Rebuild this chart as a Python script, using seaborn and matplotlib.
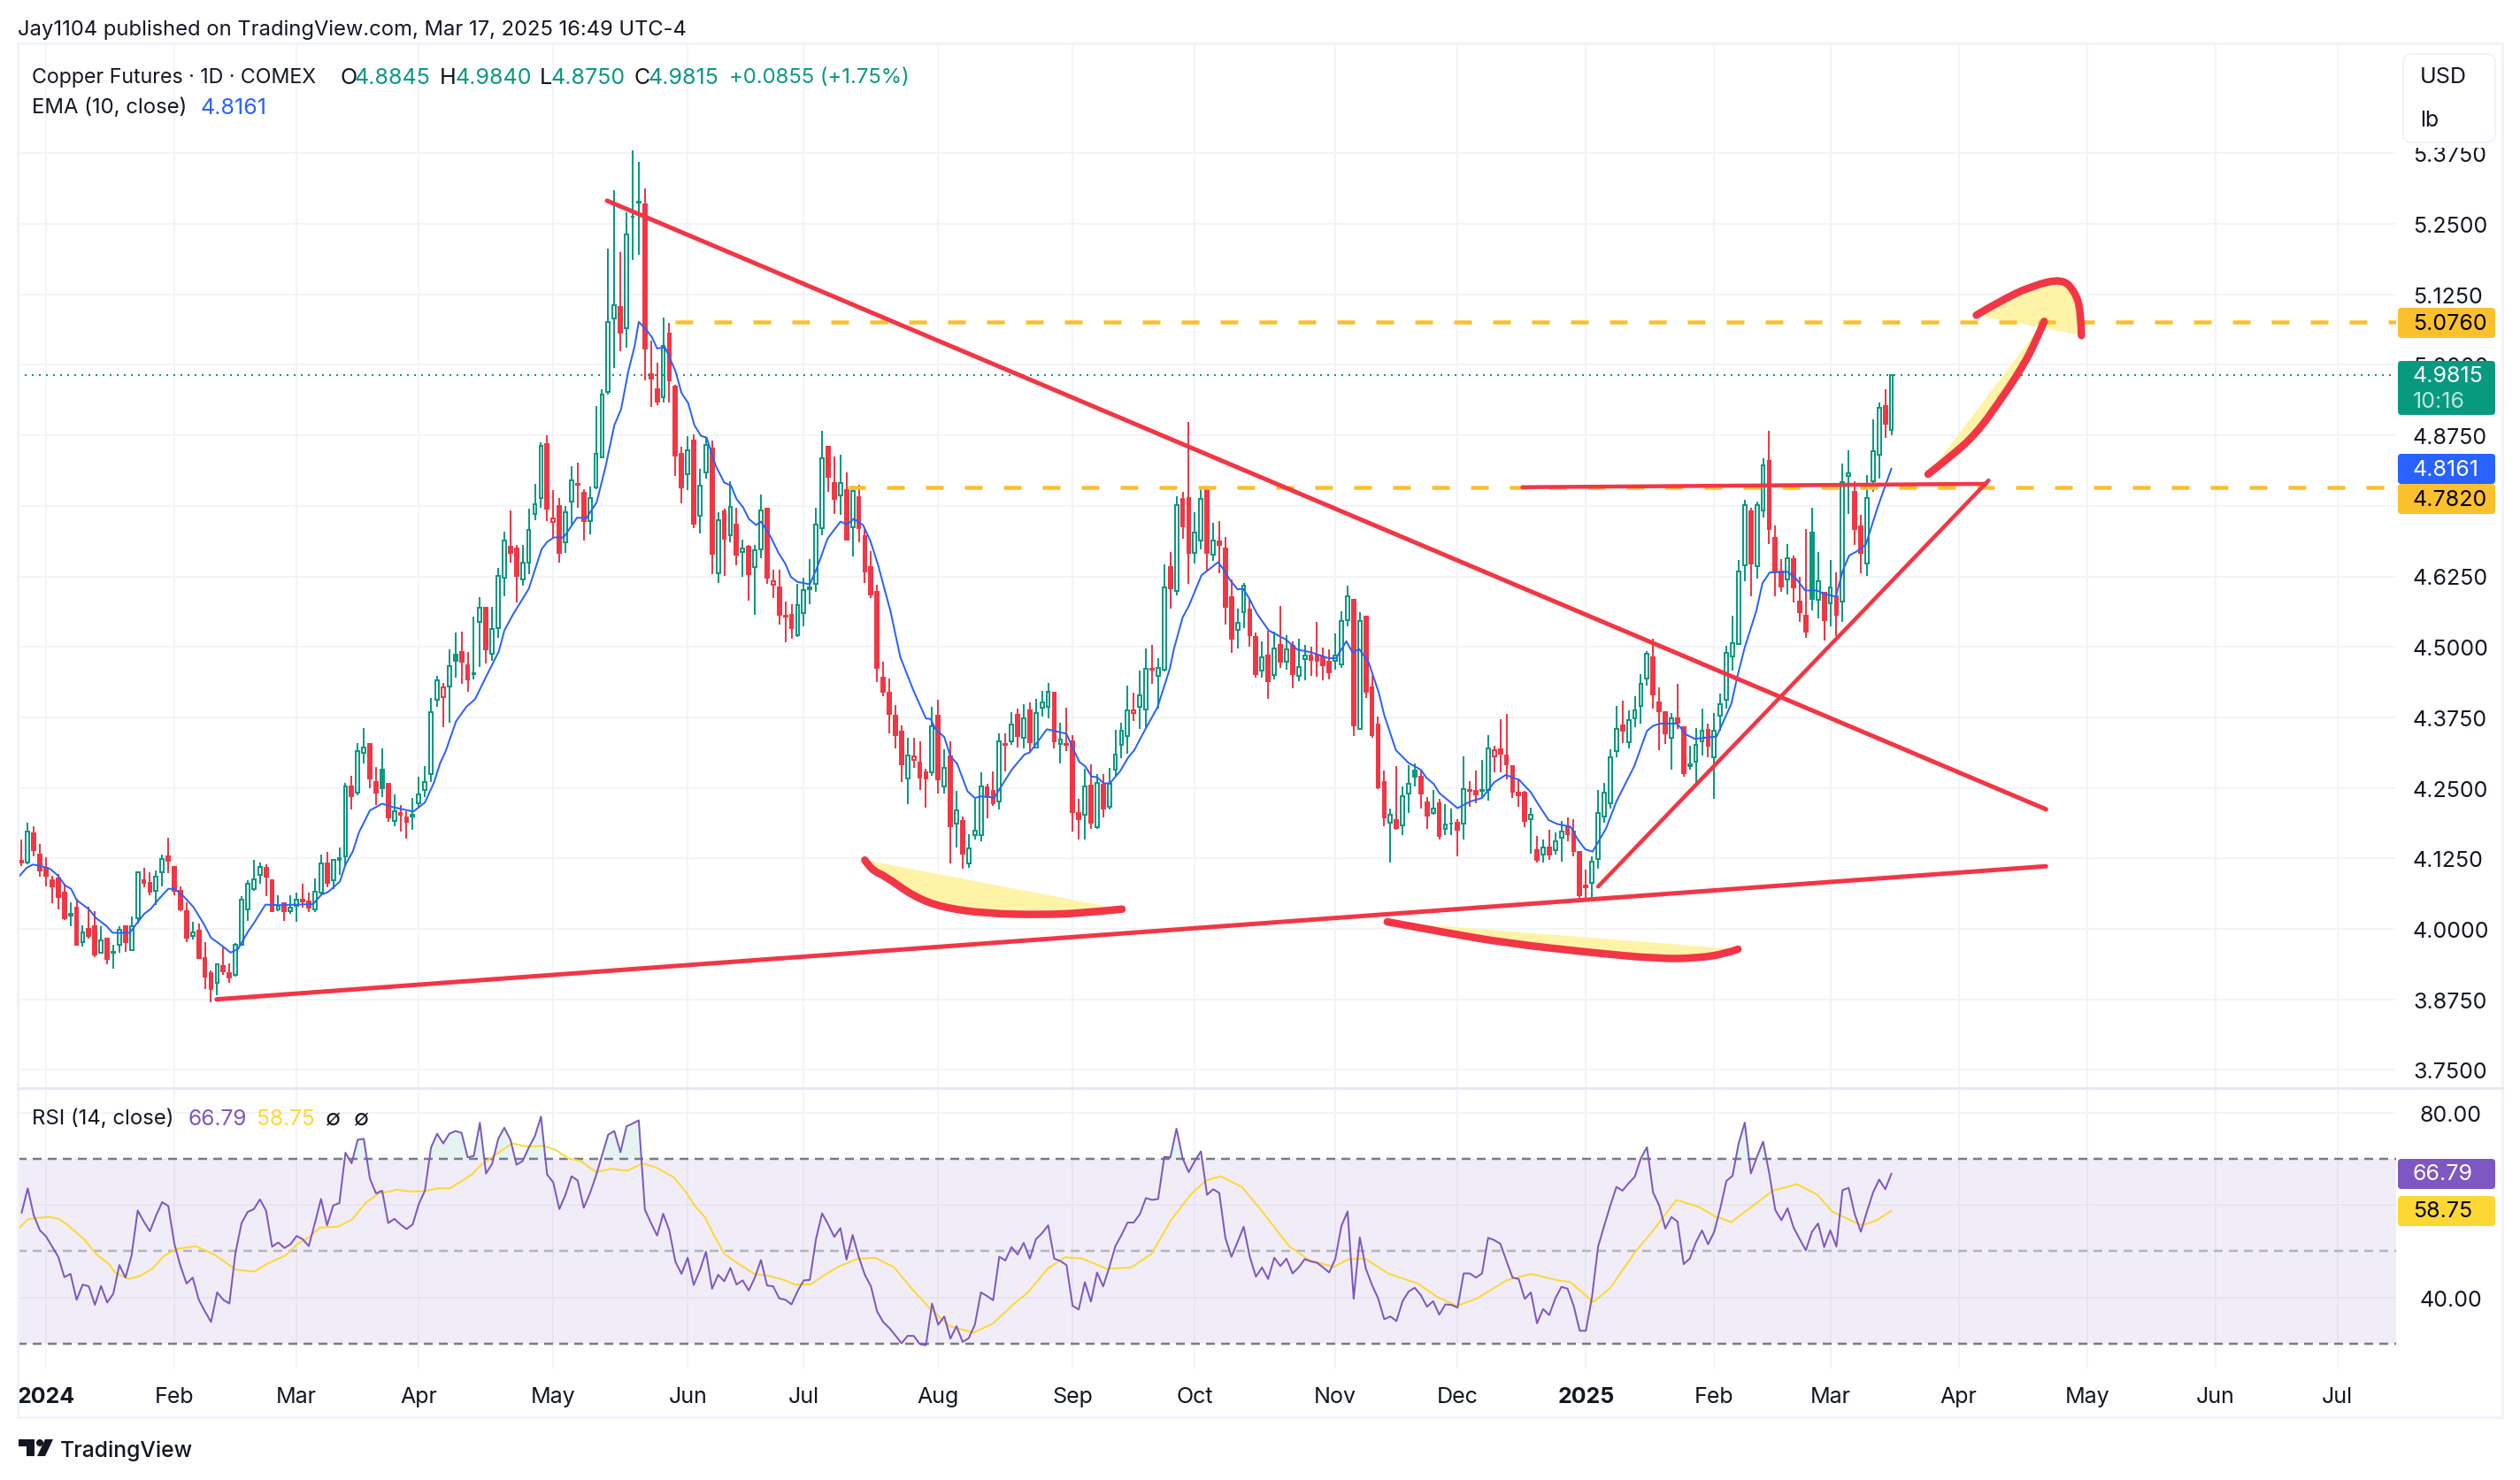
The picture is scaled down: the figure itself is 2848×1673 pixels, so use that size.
import numpy as np
import pandas as pd
import matplotlib
matplotlib.use("Agg")
import matplotlib.pyplot as plt
from matplotlib.patches import FancyBboxPatch, Polygon, Circle, Rectangle, PathPatch
from matplotlib.path import Path
import seaborn as sns

# ---------- data ----------
opens = [4.121,4.118,4.170,4.131,4.109,4.086,4.089,4.064,4.024,4.037,
3.977,4.000,4.005,3.958,3.983,3.958,3.972,4.004,3.963,4.019,
4.087,4.082,4.067,4.100,4.128,4.110,4.068,4.031,3.988,3.997,
3.949,3.922,3.904,3.934,3.922,3.918,3.972,4.035,4.071,4.095,
4.109,4.086,4.034,4.045,4.031,4.040,4.051,4.049,4.035,4.064,
4.116,4.086,4.123,4.128,4.253,4.242,4.312,4.328,4.260,4.282,
4.257,4.191,4.205,4.197,4.199,4.222,4.247,4.275,4.406,4.411,
4.429,4.486,4.491,4.468,4.451,4.545,4.569,4.488,4.534,4.622,
4.678,4.674,4.619,4.649,4.735,4.764,4.860,4.722,4.749,4.685,
4.757,4.789,4.773,4.723,4.783,4.836,4.952,5.082,5.103,5.065,
5.262,5.288,5.285,4.983,4.957,4.942,5.056,4.962,4.842,4.806,
4.866,4.732,4.809,4.852,4.630,4.740,4.698,4.716,4.668,4.677,
4.641,4.673,4.745,4.610,4.606,4.555,4.557,4.521,4.560,4.603,
4.612,4.711,4.855,4.790,4.768,4.778,4.712,4.765,4.696,4.641,
4.598,4.446,4.419,4.378,4.350,4.266,4.300,4.295,4.278,4.277,
4.378,4.252,4.306,4.187,4.191,4.116,4.167,4.167,4.251,4.245,
4.226,4.328,4.333,4.380,4.338,4.388,4.321,4.392,4.394,4.419,
4.328,4.328,4.333,4.206,4.203,4.254,4.181,4.256,4.216,4.282,
4.326,4.342,4.382,4.394,4.389,4.461,4.448,4.460,4.642,4.599,
4.763,4.764,4.667,4.688,4.779,4.664,4.687,4.675,4.588,4.530,
4.562,4.566,4.517,4.458,4.484,4.450,4.504,4.474,4.502,4.449,
4.479,4.485,4.484,4.481,4.473,4.476,4.469,4.547,4.583,4.354,
4.554,4.428,4.362,4.261,4.188,4.193,4.183,4.240,4.281,4.269,
4.225,4.206,4.223,4.177,4.186,4.188,4.186,4.246,4.244,4.245,
4.247,4.306,4.319,4.308,4.288,4.242,4.241,4.195,4.139,4.132,
4.144,4.140,4.162,4.182,4.172,4.136,4.077,4.082,4.124,4.199,
4.222,4.315,4.360,4.331,4.373,4.395,4.444,4.481,4.402,4.385,
4.338,4.374,4.358,4.289,4.297,4.333,4.353,4.305,4.378,4.406,
4.483,4.505,4.644,4.740,4.643,4.742,4.830,4.693,4.634,4.620,
4.655,4.581,4.555,4.703,4.583,4.596,4.577,4.589,4.580,4.803,
4.775,4.713,4.647,4.793,4.841,4.927,4.8845]
highs = [4.158,4.188,4.182,4.150,4.127,4.094,4.098,4.080,4.047,4.053,
4.007,4.039,4.032,4.004,3.985,3.972,4.005,4.005,4.022,4.101,
4.108,4.101,4.104,4.131,4.161,4.111,4.075,4.047,4.012,4.009,
3.977,3.927,3.939,3.969,3.939,3.975,4.058,4.087,4.122,4.117,
4.115,4.086,4.060,4.047,4.060,4.065,4.080,4.065,4.089,4.132,
4.137,4.124,4.144,4.259,4.272,4.329,4.356,4.328,4.287,4.320,
4.259,4.238,4.219,4.208,4.232,4.269,4.288,4.409,4.448,4.436,
4.496,4.526,4.527,4.491,4.554,4.588,4.570,4.571,4.640,4.704,
4.742,4.681,4.681,4.745,4.789,4.862,4.875,4.778,4.764,4.750,
4.820,4.826,4.779,4.784,4.927,4.957,5.206,5.309,5.200,5.271,
5.380,5.360,5.313,5.043,5.004,5.084,5.075,4.964,4.855,4.873,
4.876,4.816,4.872,4.866,4.739,4.745,4.793,4.747,4.690,4.681,
4.681,4.770,4.745,4.636,4.636,4.580,4.576,4.611,4.622,4.656,
4.747,4.883,4.855,4.837,4.841,4.810,4.785,4.787,4.711,4.669,
4.610,4.474,4.444,4.397,4.361,4.339,4.339,4.333,4.284,4.393,
4.406,4.319,4.333,4.244,4.199,4.168,4.231,4.277,4.257,4.279,
4.347,4.347,4.384,4.391,4.398,4.401,4.407,4.422,4.436,4.420,
4.366,4.392,4.343,4.231,4.284,4.292,4.274,4.275,4.286,4.353,
4.366,4.431,4.419,4.458,4.497,4.503,4.480,4.646,4.668,4.767,
4.774,4.898,4.739,4.781,4.782,4.720,4.723,4.695,4.620,4.568,
4.613,4.585,4.526,4.509,4.529,4.527,4.572,4.521,4.510,4.515,
4.504,4.500,4.545,4.498,4.495,4.524,4.563,4.608,4.583,4.562,
4.554,4.448,4.376,4.281,4.214,4.288,4.252,4.290,4.294,4.281,
4.234,4.247,4.231,4.221,4.213,4.194,4.306,4.262,4.280,4.299,
4.343,4.325,4.371,4.381,4.290,4.266,4.244,4.215,4.164,4.158,
4.175,4.171,4.192,4.197,4.195,4.136,4.105,4.129,4.247,4.259,
4.319,4.395,4.405,4.388,4.412,4.451,4.492,4.515,4.428,4.385,
4.382,4.435,4.358,4.325,4.356,4.391,4.364,4.383,4.417,4.502,
4.555,4.654,4.760,4.747,4.758,4.835,4.883,4.715,4.655,4.683,
4.662,4.624,4.709,4.747,4.668,4.597,4.654,4.632,4.825,4.849,
4.794,4.734,4.804,4.904,4.933,4.957,4.9840]
lows = [4.112,4.115,4.128,4.093,4.075,4.046,4.034,4.016,4.005,3.972,
3.969,3.983,3.950,3.958,3.937,3.929,3.958,3.959,3.962,4.010,
4.074,4.060,4.043,4.075,4.099,4.060,4.031,3.977,3.981,3.946,
3.893,3.870,3.882,3.918,3.904,3.915,3.971,4.014,4.067,4.080,
4.058,4.031,4.031,4.014,4.027,4.012,4.037,4.030,4.030,4.061,
4.074,4.071,4.095,4.112,4.211,4.237,4.294,4.250,4.220,4.234,
4.189,4.182,4.173,4.160,4.176,4.217,4.234,4.260,4.393,4.358,
4.365,4.445,4.434,4.421,4.442,4.464,4.470,4.476,4.516,4.590,
4.650,4.578,4.609,4.629,4.725,4.747,4.723,4.694,4.649,4.666,
4.716,4.747,4.688,4.700,4.779,4.835,4.948,4.995,5.024,5.031,
5.186,5.195,4.973,4.925,4.928,4.933,4.933,4.803,4.754,4.778,
4.711,4.701,4.798,4.629,4.613,4.626,4.686,4.644,4.624,4.582,
4.557,4.657,4.611,4.586,4.539,4.508,4.514,4.517,4.537,4.576,
4.598,4.698,4.775,4.735,4.734,4.688,4.661,4.686,4.613,4.586,
4.437,4.413,4.347,4.320,4.260,4.221,4.286,4.246,4.215,4.271,
4.240,4.240,4.116,4.144,4.107,4.109,4.158,4.155,4.196,4.218,
4.212,4.279,4.326,4.322,4.320,4.312,4.320,4.377,4.373,4.320,
4.293,4.316,4.172,4.158,4.158,4.178,4.177,4.197,4.211,4.272,
4.302,4.310,4.369,4.355,4.356,4.434,4.390,4.456,4.567,4.592,
4.691,4.612,4.648,4.673,4.635,4.652,4.630,4.539,4.490,4.497,
4.533,4.500,4.445,4.446,4.407,4.442,4.463,4.460,4.426,4.439,
4.441,4.449,4.447,4.440,4.442,4.460,4.463,4.537,4.342,4.354,
4.409,4.338,4.248,4.182,4.118,4.176,4.166,4.206,4.252,4.213,
4.177,4.203,4.158,4.167,4.166,4.129,4.158,4.217,4.223,4.230,
4.228,4.277,4.277,4.265,4.232,4.217,4.180,4.133,4.118,4.118,
4.122,4.132,4.119,4.156,4.129,4.055,4.052,4.056,4.106,4.188,
4.213,4.304,4.330,4.320,4.358,4.364,4.432,4.391,4.317,4.328,
4.282,4.355,4.270,4.283,4.253,4.307,4.304,4.231,4.351,4.390,
4.458,4.505,4.617,4.589,4.621,4.729,4.683,4.589,4.598,4.593,
4.578,4.544,4.516,4.564,4.550,4.512,4.537,4.519,4.545,4.735,
4.681,4.631,4.626,4.775,4.798,4.871,4.8750]
closes = [4.118,4.173,4.139,4.104,4.094,4.075,4.057,4.019,4.026,3.972,
3.994,3.988,3.954,3.980,3.947,3.960,3.999,3.977,4.005,4.100,
4.082,4.066,4.092,4.124,4.120,4.067,4.035,3.984,3.994,3.948,
3.915,3.894,3.938,3.925,3.914,3.972,4.052,4.080,4.088,4.110,
4.093,4.032,4.040,4.031,4.038,4.051,4.049,4.038,4.066,4.116,
4.082,4.122,4.125,4.252,4.236,4.315,4.321,4.266,4.242,4.250,
4.198,4.208,4.203,4.190,4.203,4.239,4.260,4.385,4.440,4.428,
4.466,4.476,4.474,4.443,4.453,4.570,4.495,4.531,4.626,4.688,
4.666,4.626,4.649,4.708,4.753,4.857,4.745,4.727,4.666,4.738,
4.795,4.787,4.723,4.764,4.843,4.947,5.076,5.106,5.057,5.231,
5.263,5.289,5.029,4.975,4.934,5.034,4.973,4.839,4.783,4.848,
4.718,4.786,4.858,4.665,4.724,4.692,4.748,4.663,4.675,4.629,
4.671,4.742,4.622,4.616,4.557,4.553,4.533,4.574,4.601,4.605,
4.717,4.835,4.801,4.762,4.791,4.690,4.776,4.711,4.633,4.593,
4.462,4.420,4.381,4.343,4.291,4.308,4.306,4.268,4.266,4.359,
4.265,4.286,4.182,4.210,4.134,4.142,4.174,4.252,4.234,4.223,
4.333,4.326,4.363,4.342,4.373,4.331,4.383,4.401,4.420,4.333,
4.336,4.326,4.207,4.194,4.252,4.188,4.258,4.213,4.257,4.309,
4.351,4.387,4.387,4.414,4.461,4.459,4.462,4.605,4.604,4.752,
4.713,4.667,4.702,4.763,4.667,4.688,4.680,4.571,4.515,4.542,
4.608,4.521,4.451,4.481,4.439,4.497,4.474,4.495,4.451,4.465,
4.484,4.477,4.476,4.467,4.455,4.485,4.546,4.590,4.361,4.546,
4.421,4.344,4.251,4.198,4.202,4.179,4.235,4.257,4.270,4.240,
4.201,4.214,4.165,4.185,4.187,4.176,4.248,4.244,4.238,4.246,
4.320,4.317,4.310,4.291,4.243,4.237,4.191,4.202,4.123,4.145,
4.131,4.155,4.172,4.168,4.138,4.059,4.073,4.119,4.206,4.242,
4.304,4.354,4.351,4.370,4.387,4.434,4.487,4.415,4.386,4.346,
4.373,4.365,4.276,4.292,4.327,4.352,4.325,4.351,4.398,4.490,
4.506,4.634,4.752,4.647,4.751,4.822,4.709,4.635,4.607,4.657,
4.606,4.561,4.527,4.585,4.617,4.547,4.605,4.556,4.792,4.807,
4.709,4.667,4.764,4.847,4.924,4.895,4.9815]
bar_colors = ("rgrrrrrrgr" "grrgrggrgg" "rrggrrrrgr" "rrgrrggggg" "rrgrggrrgg"
              "rgggrggrrg" "rgrrgggggr" "ggrrggrggg" "rrggggrrrg" "grrgggggrg"
              "ggrrrgrrrg" "rggrgrgrgr" "ggrrrrrggg" "ggrrgrgrrr" "rrrrrgrrrg"
              "rgrgrgggrr" "grgrgrgggr" "grrrgrgrgg" "ggrggrggrg" "rrggrgrrrg"
              "grrgrgrgrg" "grrrrgggrg" "rrrrgrgggr" "rgrggrgrrg" "grrrrrrgrg"
              "rggrrrrggg" "ggrggggrrr" "grrgggrggg" "gggrggrrrg" "rrrggrgrgg"
              "rrgggrg")

ema_bars = [-0.6,0.8,1.8,3,4.7,5.9,7.1,8.1,9,11,12.2,13.9,14.9,16,17.7,19,20.1,21.1,22.3,24,25,26.4,28.1,29.8,31,32.2,34.2,35.4,37.1,38,39.9,42.1,45,47.7,49.1,50.1,52.1,53,54.2,55.2,57,59,60.7,64.1,66,67.5,68.5,69.4,71.1,72.8,74.2,
76.1,78.1,79,80.4,83,85.1,86,87.1,88.7,90.9,92.4,94.1,95.6,97,98.1,99.3,100.3,101,102.2,103.2,104,105.3,107,108,109.1,110.1,111.2,112.1,113.6,115,116.1,117,118.1,119,120.2,121,122.5,123.9,125,125.9,127,129,130.2,131.9,134,135.1,136.2,137.7,138.9,140.2,141.1,142.2,143.8,145.9,
148,148.8,149.5,151,152,153.1,154.8,156,157,159.2,160.1,162.1,164.1,165,167.8,171,172.2,173.1,174.1,175.1,176,177.1,178.1,179.8,181.1,182.1,184,185.9,187.9,188.6,190,191,193.1,195.8,196.6,197.8,199,199.9,200.9,202.1,204.1,206.9,208.8,210.8,
213.9,215.1,216.8,217.8,218.9,220.4,222.1,223,224.9,227,229,229.9,231.1,232,235,237.1,239,241,242.9,245.1,247,248.2,249.9,251.3,253.5,254.7,255.9,257.1,
259.3,261,263.9,266,267,268.2,270.9,272.5,273.8,277.4,279.8,280.8,282,283.9,284.9,286.1,289,290.4,291.9,293.8,295,296.9,298.1,299.1,300.3,301.8,303.7,306]
ema_vals = [4.091,4.108,4.114,4.112,4.106,4.095,4.077,4.071,4.051,4.035,4.019,4.005,3.993,3.993,3.993,4.012,4.027,4.035,4.051,4.071,4.071,4.059,4.039,4.009,3.984,3.975,3.958,3.964,3.996,4.010,4.043,4.042,4.043,4.044,4.061,4.065,4.084,4.114,4.137,4.171,4.210,4.222,4.216,4.208,4.224,4.260,4.294,4.315,4.368,4.394,4.407,
4.449,4.492,4.529,4.557,4.603,4.673,4.686,4.694,4.694,4.729,4.728,4.756,4.821,4.893,4.921,4.989,5.032,5.076,5.063,5.048,5.029,5.031,4.989,4.950,4.932,4.893,4.874,4.871,4.821,4.791,4.786,4.762,4.747,4.727,4.716,4.722,4.697,4.666,4.647,4.624,4.615,4.611,4.641,4.692,4.722,4.717,4.727,4.716,4.688,4.644,4.607,4.563,4.482,4.424,
4.373,4.372,4.355,4.340,4.306,4.293,4.244,4.232,4.235,4.233,4.249,4.283,4.309,4.313,4.354,4.346,4.317,4.296,4.288,4.270,4.269,4.258,4.258,4.280,4.304,4.317,4.356,4.393,4.461,4.497,4.552,4.572,4.627,4.650,4.639,4.618,4.602,4.603,4.586,4.560,4.529,4.513,4.495,4.491,
4.480,4.480,4.510,4.490,4.496,4.474,4.419,4.379,4.317,4.294,4.282,4.268,4.257,4.241,4.214,4.226,4.232,4.260,4.273,4.264,4.242,4.221,4.193,4.186,4.181,4.158,4.141,4.137,
4.178,4.226,4.288,4.351,4.360,4.364,4.364,4.344,4.337,4.341,4.399,4.448,4.499,4.564,4.613,4.632,4.633,4.621,4.600,4.600,4.594,4.589,4.637,4.662,4.669,4.681,4.746,4.8161]

rsi_vals = [58.3,63.6,57.7,54.5,53.2,51.0,48.8,44.4,45.1,39.5,42.8,42.4,38.4,42.5,38.9,40.8,47.0,44.3,49.1,58.8,
56.4,54.3,57.7,60.6,59.8,51.6,46.8,43.0,44.3,39.5,37.0,34.7,41.1,39.5,38.7,49.7,56.1,58.5,59.1,61.2,
58.8,51.0,51.9,50.7,51.5,53.3,52.6,51.1,56.1,61.3,55.6,59.9,60.4,71.3,69.0,74.1,74.3,65.7,62.5,63.1,
56.1,57.0,55.8,54.8,55.8,60.2,63.1,72.4,75.4,73.3,75.4,76.0,75.6,70.3,70.6,77.8,66.8,68.9,74.3,76.7,
74.1,68.7,69.5,72.4,74.9,79.1,66.6,64.9,59.1,62.2,66.2,65.3,59.4,62.5,66.3,70.8,75.2,76.0,71.4,77.0,
77.6,78.3,59.0,56.1,53.4,58.1,54.5,47.7,45.1,48.6,42.7,45.9,49.9,41.9,44.9,43.5,46.4,42.8,43.7,41.5,
44.3,48.1,42.6,42.4,39.8,39.5,38.5,41.4,43.7,43.8,52.6,58.2,55.8,53.1,55.0,48.2,53.5,48.8,44.9,42.4,
37.0,34.7,33.4,31.8,30.1,31.7,31.7,29.9,29.7,38.7,34.1,35.9,31.1,33.8,30.4,31.2,
34.1,41.1,40.3,39.4,48.8,48.0,50.9,49.3,51.8,48.4,52.6,53.9,55.6,48.4,47.9,47.0,38.2,37.4,43.3,39.1,
45.4,42.4,46.5,51.1,53.5,56.2,56.2,58.0,61.5,61.1,61.3,70.4,70.3,76.5,70.1,67.1,69.5,71.6,62.2,63.4,
62.6,52.9,48.8,52.0,55.3,48.8,44.5,46.5,44.0,48.6,46.8,48.4,45.2,46.5,48.3,47.8,47.5,46.5,45.4,48.4,
55.5,58.6,39.7,53.0,46.2,42.7,39.8,35.3,35.9,34.9,39.2,41.3,42.1,40.5,38.0,39.2,36.3,38.5,38.4,
37.8,45.2,45.2,44.3,45.2,52.9,52.4,51.6,47.9,44.3,44.0,39.7,41.1,34.4,37.5,36.2,39.8,42.3,41.9,38.2,
32.8,32.8,40.1,51.0,55.5,59.9,63.9,63.1,64.7,66.1,70.1,72.5,62.7,59.9,54.9,57.4,56.4,47.2,48.4,51.9,
54.5,51.5,54.2,59.3,65.2,66.3,73.3,77.8,66.8,70.4,73.7,66.9,58.9,56.7,59.3,55.1,52.6,50.2,54.2,56.0,
50.9,54.5,51.0,63.2,63.7,58.0,54.2,58.6,62.7,65.5,63.4,66.79]

rsi_ma_bars = [-0.5,1,2.6,4.6,6.1,7.7,10.2,12.2,14.3,15.3,17.5,19.3,21.4,23.4,25.4,28.5,31.5,35.1,38.1,40.2,43.2,45.2,47,48.8,51.8,54.1,56.4,58.5,61.5,63.5,66.1,68.1,70.1,73.7,75.2,77.8,80.3,82.8,85.4,87.4,89.4,91.5,94,96.5,99.1,101.6,103.7,106.7,108.7,110.3,111.8,113.3,115,117.4,119.9,122.5,125,126.5,129.1,131.1,133.6,136.7,139.7,142.8,145.8,148.9,151.9,155.8,
159,162.3,164.7,167.9,170.7,173.6,177.6,181.6,184.9,188.1,191.3,193.8,196.2,199.7,202.6,207.5,210.7,214.7,217.2,219.9,223.6,228.5,231.7,234.9,238.2,243,247,251.1,253.5,257.2,260,264,267.2,270.8,274.5,276.9,279.8,283.4,286.6,290.6,293.9,296.3,301.1,303.6,306]
rsi_ma_vals = [54.9,56.9,57.2,57.4,57.0,55.5,52.6,49.4,47.2,45.4,44.0,44.6,46.2,49.1,50.5,51.1,49.3,46.0,45.6,47.3,49.1,51.6,53.0,55.1,55.3,56.9,60.6,62.5,63.3,62.9,63.0,63.6,63.6,66.6,68.7,71.1,73.3,72.6,72.8,71.9,70.1,69.5,67.1,67.8,67.4,69.0,68.2,66.0,62.8,59.6,57.4,53.5,49.4,47.2,45.1,44.6,43.7,42.8,42.8,44.6,46.6,48.3,48.6,46.5,41.7,37.3,33.8,32.4,
34.4,38.5,41.1,46.2,48.7,48.4,46.2,46.5,49.4,56.7,62.2,65.3,66.2,63.9,59.3,51.0,48.1,46.6,48.3,48.4,45.2,43.0,40.1,38.2,39.8,43.7,45.1,43.8,43.3,39.0,42.1,49.7,54.8,61.1,59.6,57.7,56.3,59.9,63.1,64.5,62.2,58.6,55.6,56.7,58.75]

# drawn trend lines and hand strokes: (bar position, price)
down_line_bars, down_line_prices = [95.8, 331.3], [5.291, 4.212]
base_line_bars, base_line_prices = [31.9, 331.3], [3.875, 4.111]
rise_line_bars, rise_line_prices = [258.0, 321.9], [4.075, 4.795]
neck_line_bars, neck_line_prices = [245.6, 321.5], [4.783, 4.789]
smile1_bars = [138,139.1,141.3,145.9,150.6,158,167.2,173.6,180.1]
smile1_prices = [4.122,4.104,4.094,4.058,4.038,4.027,4.025,4.028,4.035]
smile2_bars = [223.5,233.7,242.9,256.7,267.9,274.2,278.9,280.9]
smile2_prices = [4.0125,3.992,3.975,3.958,3.947,3.948,3.956,3.964]
arrow_bars = [312,315.8,319.9,323.9,327.5,329.6,331]
arrow_prices = [4.806,4.838,4.878,4.938,4.997,5.041,5.077]
cap_bars = [319.9,323.9,329,334,336.0,337.0,337.1]
cap_prices = [5.088,5.114,5.140,5.153,5.130,5.098,5.052]
level_hi, level_hi_from = 5.0760, 106.9
level_lo, level_lo_from = 4.7820, 135.2

price_ticks = [5.375,5.25,5.125,5.0,4.875,4.75,4.625,4.5,4.375,4.25,4.125,4.0,3.875,3.75]
price_hidden_ticks = [4.75]
rsi_ticks = [80,60,40]
month_bars = [4,25,45,65,87,109,128,150,172,192,215,235,256,277,296,317,338,359,379]
month_labels = ["2024","Feb","Mar","Apr","May","Jun","Jul","Aug","Sep","Oct","Nov","Dec","2025","Feb","Mar","Apr","May","Jun","Jul"]

# ---------- style ----------
GREEN, RED, BLUE = "#089981", "#F23645", "#2962FF"
ORANGE, PURPLE, YEL = "#FBC02D", "#7E57C2", "#FDD835"
FILLY = "#FFF3A3"
GRID, FRAME, INK = "#F3F4F6", "#F0F3FA", "#131722"
sns.set_theme(style="white")
plt.rcParams["font.family"] = ["Inter", "DejaVu Sans"]
plt.rcParams["lines.scale_dashes"] = False
W, H, DPI = 2848, 1674, 200
PX = 72 / DPI
FS = 9.0

fig = plt.figure(figsize=(W / DPI, H / DPI), dpi=DPI, facecolor="white")
def pane(x0, y0, x1, y1):
    return fig.add_axes([x0 / W, 1 - y1 / H, (x1 - x0) / W, (y1 - y0) / H])
ax = pane(20, 50, 2708, 1231)
axr = pane(20, 1231, 2708, 1548)
XLIM = (-0.64, 388.6)

df = pd.DataFrame(dict(o=opens, h=highs, l=lows, c=closes))
df["bar"] = np.arange(len(df))
df["col"] = [GREEN if ch == "g" else RED for ch in bar_colors[:len(df)]]
df["hollow"] = df.c >= df.o

for a in (ax, axr):
    a.set_facecolor("none")
    a.set_xlim(*XLIM)
    for s in a.spines.values():
        s.set_visible(False)
    a.set_xticks(month_bars)
    a.grid(True, axis="both", color=GRID, lw=2 * PX)
    a.set_axisbelow(True)
    a.yaxis.tick_right()
    a.tick_params(length=0, labelsize=FS, labelcolor=INK, pad=0)

# price pane
ax.set_ylim(4 - 180 / 637.6, 4 + 1001 / 637.6)
ax.set_yticks(price_ticks)
ax.set_yticklabels(["" if t in price_hidden_ticks else f"{t:.4f}" for t in price_ticks])
ax.tick_params(axis="y", pad=19 * PX)
ax.tick_params(axis="x", labelbottom=False)

ax.vlines(df.bar, df.l, df.h, colors=df.col, lw=2 * PX, zorder=2)
bw = 0.55
ax.bar(df.bar, (df.c - df.o).abs(), bottom=df[["o", "c"]].min(axis=1), width=bw,
       facecolor=["white" if h else c for h, c in zip(df.hollow, df.col)],
       edgecolor=df.col, linewidth=2 * PX, zorder=3)

sns.lineplot(x=ema_bars, y=ema_vals, ax=ax, color=BLUE, lw=2 * PX, zorder=5, estimator=None, sort=False)
ax.axhline(closes[-1], color=GREEN, lw=2 * PX, ls=(0, (2 * PX, 6 * PX)), zorder=4)
for lvl, x0 in ((level_hi, level_hi_from), (level_lo, level_lo_from)):
    ax.plot([x0, XLIM[1]], [lvl, lvl], color=ORANGE, lw=4.5 * PX, ls=(0, (20 * PX, 24 * PX)),
            dash_capstyle="butt", zorder=6)

def stroke(bx, py):
    # smooth rendering of a hand stroke through its read-off vertices
    pts = np.column_stack([bx, py])
    verts, codes = [pts[0]], [Path.MOVETO]
    for i in range(1, len(pts) - 1):
        end = pts[i + 1] if i == len(pts) - 2 else (pts[i] + pts[i + 1]) / 2
        verts += [pts[i], end]
        codes += [Path.CURVE3, Path.CURVE3]
    return Path(verts, codes)

for bx, py in ((smile1_bars, smile1_prices), (smile2_bars, smile2_prices),
               (arrow_bars, arrow_prices), (cap_bars, cap_prices)):
    p = stroke(bx, py)
    ax.add_patch(PathPatch(p, facecolor=FILLY, edgecolor="none", alpha=0.95, zorder=5.5))
    ax.add_patch(PathPatch(p, facecolor="none", edgecolor=RED, lw=8.5 * PX, capstyle="round",
                           joinstyle="round", zorder=7))
for bx, py, lw in ((down_line_bars, down_line_prices, 5), (base_line_bars, base_line_prices, 5),
                   (rise_line_bars, rise_line_prices, 4.5), (neck_line_bars, neck_line_prices, 4.5)):
    sns.lineplot(x=bx, y=py, ax=ax, color=RED, lw=lw * PX, zorder=7, estimator=None, sort=False,
                 solid_capstyle="round")

# RSI pane
axr.set_ylim(30 - 28 / 5.22, 70 + (1310.7 - 1231) / 5.22)
axr.set_yticks(rsi_ticks)
axr.set_yticklabels(["80.00", "", "40.00"])
axr.tick_params(axis="y", pad=27 * PX)
axr.set_xticklabels(month_labels)
axr.tick_params(axis="x", pad=20 * PX)
for lab, txt_ in zip(axr.get_xticklabels(), month_labels):
    if txt_ in ("2024", "2025"):
        lab.set_fontweight("bold")
axr.axhspan(30, 70, facecolor=PURPLE, alpha=0.1, lw=0, zorder=1)
for lvl, col in ((70, "#787B86"), (50, "#B2B5BE"), (30, "#787B86")):
    axr.axhline(lvl, color=col, lw=2.5 * PX, ls=(0, (10 * PX, 7 * PX)), zorder=2)
rsi_x = np.arange(len(rsi_vals)) + (306 - (len(rsi_vals) - 1))
rv = np.array(rsi_vals)
axr.fill_between(rsi_x, 70, rv, where=rv > 70, interpolate=True, color=GREEN, alpha=0.1, lw=0, zorder=2)
sns.lineplot(x=rsi_x, y=rsi_vals, ax=axr, color=PURPLE, lw=2 * PX, zorder=4, estimator=None, sort=False)
sns.lineplot(x=rsi_ma_bars, y=rsi_ma_vals, ax=axr, color=YEL, lw=2 * PX, zorder=3, estimator=None, sort=False)
for a in (ax, axr):
    a.set_xlim(*XLIM)
    a.set_xlabel("")
    a.set_ylabel("")

# chrome overlay in image pixels
ov = fig.add_axes([0, 0, 1, 1], zorder=20)
ov.set_xlim(0, W); ov.set_ylim(H, 0); ov.axis("off"); ov.patch.set_alpha(0)
for x0, y0, x1, y1 in ((20, 50, 2828, 50), (20, 50, 20, 1603), (2828, 50, 2828, 1603), (20, 1603, 2828, 1603)):
    ov.plot([x0, x1], [y0, y1], color=FRAME, lw=3 * PX)
ov.plot([20, 2828], [1231, 1231], color="#E6E8F2", lw=3 * PX)

def txt(x, y, s, c=INK, **k):
    k.setdefault("fontsize", FS)
    return ov.text(x, y, s, color=c, va="center", ha=k.pop("ha", "left"), **k)

def badge(y0, y1, fc, x0=2710, x1=2820):
    ov.add_patch(FancyBboxPatch((x0, y0), x1 - x0, y1 - y0, boxstyle="round,pad=0,rounding_size=4",
                                fc=fc, ec="none", zorder=5))

txt(20, 34, "Jay1104 published on TradingView.com, Mar 17, 2025 16:49 UTC-4", fontsize=8.55)
txt(36, 88, "Copper Futures · 1D · COMEX", fontsize=8.35)
hdr = [(384, "O", INK), (401, "4.8845", GREEN), (497, "H", INK),
       (514, "4.9840", GREEN), (610, "L", INK), (623, "4.8750", GREEN), (717, "C", INK), (733, "4.9815", GREEN)]
for x, s, c in hdr:
    txt(x, 88, s, c)
txt(824, 88, "+0.0855 (+1.75%)", GREEN, fontsize=8.6)
txt(36, 122, "EMA (10, close)", fontsize=8.6); txt(226, 122, "4.8161", BLUE)
txt(36, 1265, "RSI (14, close)", fontsize=8.6); txt(212, 1265, "66.79", PURPLE, fontsize=8.8)
txt(290, 1265, "58.75", YEL, fontsize=8.8)
txt(368, 1265, "∅"); txt(400, 1265, "∅")

ov.add_patch(Rectangle((2716, 160), 104, 8, fc="white", ec="none", zorder=3))
ov.add_patch(FancyBboxPatch((2716, 62), 104, 100, boxstyle="round,pad=0,rounding_size=10",
                            fc="white", ec=FRAME, lw=2 * PX, zorder=4))
txt(2735, 87, "USD", zorder=6); txt(2735, 136, "lb", zorder=6)

for y0, y1, fc, tc, s, yy in ((349, 383, ORANGE, "#000000", "5.0760", 366),
                              (514, 548, BLUE, "white", "4.8161", 531),
                              (548, 582, ORANGE, "#000000", "4.7820", 565)):
    badge(y0, y1, fc)
    txt(2727, yy, s, tc, zorder=6)
badge(409, 470, GREEN)
txt(2727, 425, "4.9815", "white", zorder=6)
txt(2727, 454, "10:16", "#BFE5DC", zorder=6)
badge(1311, 1345, PURPLE); txt(2727, 1328, "66.79", "white", zorder=6)
badge(1353, 1387, YEL); txt(2727, 1370, "58.75", "#000000", zorder=6)

# TradingView mark
ov.add_patch(Polygon([(21, 1628), (39, 1628), (39, 1647), (30, 1647), (30, 1636), (21, 1636)], fc=INK, ec="none"))
ov.add_patch(Circle((45, 1632), 4, fc=INK, ec="none"))
ov.add_patch(Polygon([(51, 1628), (60, 1628), (51, 1647), (42, 1647)], fc=INK, ec="none"))
txt(68, 1640, "TradingView", fontsize=8.9, fontweight="medium")

fig.savefig("out.png", dpi=DPI)
